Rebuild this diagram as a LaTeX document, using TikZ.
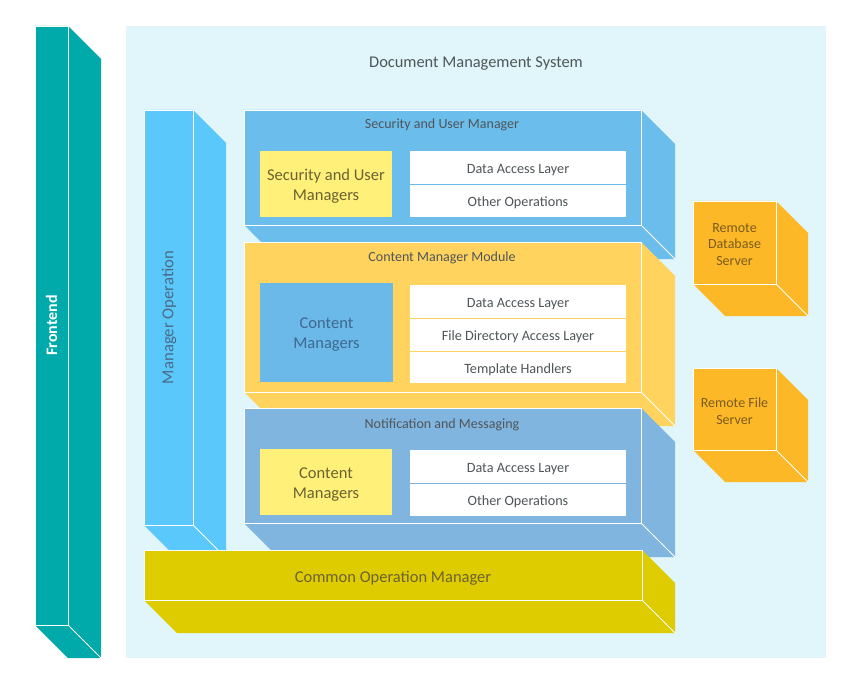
\documentclass[tikz,border=0pt]{standalone}
\usepackage{fontspec}
\setmainfont{Carlito}
\definecolor{bgc}{HTML}{E0F6FA}
\definecolor{tealc}{HTML}{00A9AA}
\definecolor{mopc}{HTML}{5BC8FB}
\definecolor{secc}{HTML}{6BBDEC}
\definecolor{conc}{HTML}{FFD35E}
\definecolor{notc}{HTML}{80B5E0}
\definecolor{inyel}{HTML}{FFF07A}
\definecolor{inblue}{HTML}{6BB9E8}
\definecolor{comc}{HTML}{DFCC00}
\definecolor{remc}{HTML}{FDB827}
\definecolor{txtgray}{HTML}{4F5559}
\definecolor{txtolive}{HTML}{6B6232}
\definecolor{txtblue}{HTML}{3F6890}
\definecolor{txtmop}{HTML}{4A6A85}
\definecolor{txtbrown}{HTML}{7A5C1E}
\newcommand\boxthreed[6]{%
  \fill[#6] (#1,#2) -- (#3,#2) -- (#3+#5,#2+#5) -- (#3+#5,#4+#5) -- (#1+#5,#4+#5) -- (#1,#4) -- cycle;
  \draw[white, line width=0.9pt] (#1,#2) rectangle (#3,#4);
  \draw[white, line width=0.9pt] (#3,#4) -- (#3+#5,#4+#5);
}
\tikzset{
  boxtitle/.style={text=txtgray, font=\fontsize{14}{16}\selectfont, inner sep=0pt, yshift=-2pt},
  innerbox/.style={draw=none, inner sep=0pt},
  innertext/.style={align=center, font=\fontsize{16.5}{20}\selectfont, inner sep=0pt, yshift=-2.5pt},
  rowtext/.style={text=txtgray, font=\fontsize{14.2}{16}\selectfont, inner sep=0pt, yshift=-2pt},
  remtext/.style={align=center, text=txtbrown, font=\fontsize{14}{16.5}\selectfont, inner sep=0pt, yshift=-1.5pt},
}
\begin{document}
\begin{tikzpicture}[x=1pt,y=-1pt]
\useasboundingbox (0,0) rectangle (858,676);
\fill[white] (0,0) rectangle (858,676);
% background panel
\fill[bgc] (126,26) rectangle (826,658);
\node[text=txtgray, font=\fontsize{16.4}{19}\selectfont, inner sep=0pt, yshift=-2.5pt] (title) at (476,61) {Document Management System};

% Frontend
\boxthreed{35}{26}{68}{625}{33}{tealc}
\node[rotate=90, text=white, inner sep=0pt, font=\bfseries\fontsize{16}{18}\selectfont] (frontend) at (51.5,325.5) {Frontend};

% Manager Operation
\boxthreed{144}{110}{193}{525}{33}{mopc}
\node[rotate=90, text=txtmop, inner sep=0pt, font=\fontsize{16.7}{19}\selectfont] (mop) at (169,317.5) {Manager Operation};

% Security and User Manager
\boxthreed{244}{110}{641}{225}{34}{secc}
\node[boxtitle] (sectitle) at (442,123) {Security and User Manager};
\node[innerbox, fill=inyel, minimum width=132pt, minimum height=66pt] (secmgr) at (326,184) {};
\node[innertext, text=txtolive] (secmgrtxt) at (secmgr) {Security and User\\Managers};
\fill[white] (410,151) rectangle (626,217);
\draw[secc, line width=0.8pt] (410,184) -- (626,184);
\node[rowtext] (secdal) at (518,168) {Data Access Layer};
\node[rowtext] (secoo) at (518,201) {Other Operations};

% Content Manager Module
\boxthreed{244}{242}{641}{392}{34}{conc}
\node[boxtitle] (contitle) at (442,256) {Content Manager Module};
\node[innerbox, fill=inblue, minimum width=133pt, minimum height=99pt] (conmgr) at (326.5,332.5) {};
\node[innertext, text=txtblue] (conmgrtxt) at (conmgr) {Content\\Managers};
\fill[white] (410,285) rectangle (626,383);
\draw[conc, line width=0.8pt] (410,318) -- (626,318);
\draw[conc, line width=0.8pt] (410,351) -- (626,351);
\node[rowtext] (condal) at (518,302) {Data Access Layer};
\node[rowtext] (confdal) at (518,335) {File Directory Access Layer};
\node[rowtext] (conth) at (518,368) {Template Handlers};

% Notification and Messaging
\boxthreed{244}{408}{641}{523}{34}{notc}
\node[boxtitle] (nottitle) at (442,423) {Notification and Messaging};
\node[innerbox, fill=inyel, minimum width=132pt, minimum height=66pt] (notmgr) at (326,482) {};
\node[innertext, text=txtolive] (notmgrtxt) at (notmgr) {Content\\Managers};
\fill[white] (410,450) rectangle (626,516);
\draw[notc, line width=0.8pt] (410,483) -- (626,483);
\node[rowtext] (notdal) at (518,467) {Data Access Layer};
\node[rowtext] (notoo) at (518,500) {Other Operations};

% Common Operation Manager
\boxthreed{144}{550}{642}{600}{33}{comc}
\node[text=txtolive, inner sep=0pt, yshift=-2pt, font=\fontsize{16.5}{19}\selectfont] (common) at (393,576) {Common Operation Manager};

% Remote servers
\boxthreed{693}{201}{776}{284}{32}{remc}
\node[remtext] (rdb) at (734.5,243) {Remote\\Database\\Server};
\boxthreed{693}{368}{776}{450}{32}{remc}
\node[remtext] (rfs) at (734.5,409.5) {Remote File\\Server};
\end{tikzpicture}
\end{document}
